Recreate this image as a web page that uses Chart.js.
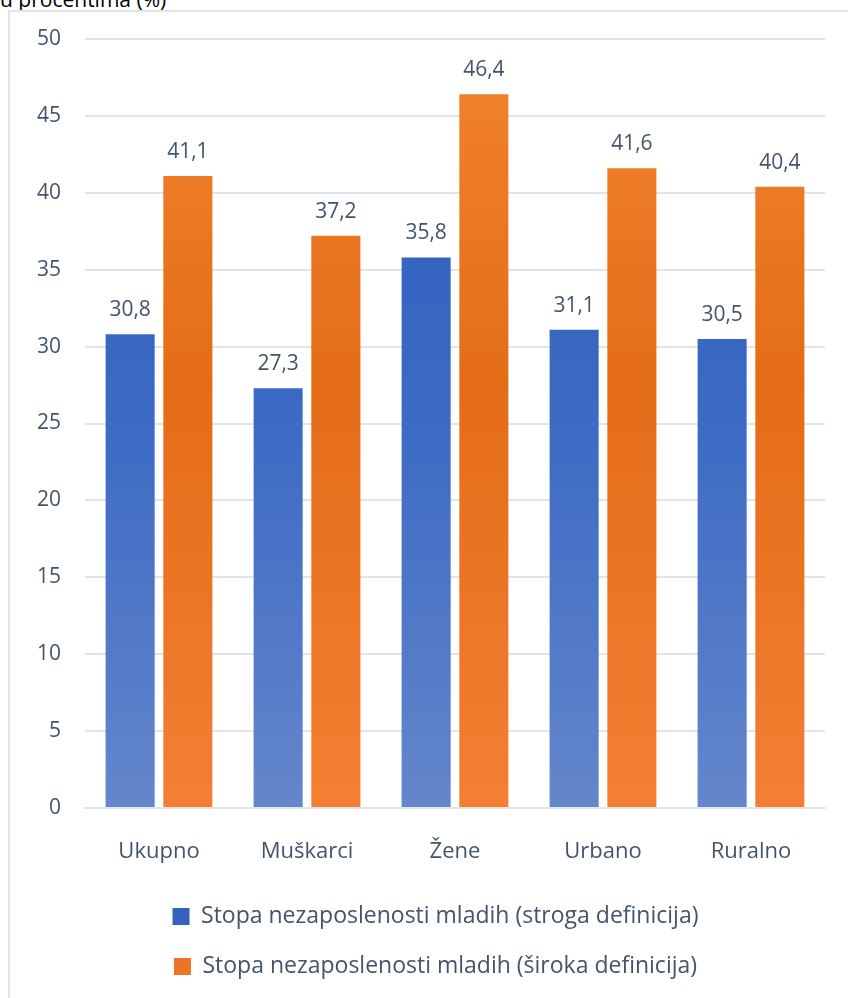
<!DOCTYPE html>
<html>
<head>
<meta charset="utf-8">
<script src="https://cdn.jsdelivr.net/npm/chart.js@4"></script>
<style>
  body { margin: 0; background: #fff; }
  #wrap { position: relative; width: 848px; height: 998px; overflow: hidden; }
  #title { position: absolute; left: 0; top: -15px; font: 21px "Open Sans", sans-serif; color: #000; white-space: nowrap; }
  #frame { position: absolute; left: 8px; top: 10px; width: 860px; height: 1000px; border-left: 2px solid #E1E4E9; border-top: 2px solid #E1E4E9; }
  #c { position: absolute; left: 0; top: 0; }
</style>
</head>
<body>
<div id="wrap">
  <div id="title">u procentima (%)</div>
  <div id="frame"></div>
  <canvas id="c" width="848" height="998"></canvas>
</div>
<script>
var categories = ['Ukupno', 'Muškarci', 'Žene', 'Urbano', 'Ruralno'];
var strictValues = [30.8, 27.3, 35.8, 31.1, 30.5];
var broadValues = [41.1, 37.2, 46.4, 41.6, 40.4];
var seriesNames = ['Stopa nezaposlenosti mladih (stroga definicija)', 'Stopa nezaposlenosti mladih (široka definicija)'];
var legendColors = ['#3462BF', '#EC7424'];

var textColor = '#44546A';
var fontFamily = '"Open Sans", sans-serif';

function blueFill(context) {
    const area = context.chart.chartArea;
    if (!area) return '#3A66C0';
    const g = context.chart.ctx.createLinearGradient(0, area.top, 0, area.bottom);
    g.addColorStop(0, '#2C5FBD');
    g.addColorStop(0.5, '#3C6AC4');
    g.addColorStop(1, '#6486CB');
    return g;
}

function orangeFill(context) {
    const area = context.chart.chartArea;
    if (!area) return '#EA7420';
    const g = context.chart.ctx.createLinearGradient(0, area.top, 0, area.bottom);
    g.addColorStop(0, '#F3842F');
    g.addColorStop(0.45, '#E46C17');
    g.addColorStop(1, '#F47F33');
    return g;
}

// draw values above bars, with decimal comma
const valueLabels = {
    id: 'valueLabels',
    afterDatasetsDraw(chart) {
        const ctx = chart.ctx;
        ctx.save();
        ctx.font = '21px ' + fontFamily;
        ctx.fillStyle = textColor;
        ctx.textAlign = 'center';
        ctx.textBaseline = 'middle';
        chart.data.datasets.forEach((ds, di) => {
            chart.getDatasetMeta(di).data.forEach((bar, i) => {
                ctx.fillText(ds.data[i].toFixed(1).replace('.', ','), bar.x, bar.y - 24);
            });
        });
        ctx.restore();
    }
};

// nudge the legend a bit to the right, like the original
const legendShift = {
    id: 'legendShift',
    afterLayout(chart) {
        if (chart.legend) {
            chart.legend.left += 18;
            chart.legend.right += 18;
        }
    }
};

new Chart(document.getElementById('c'), {
    type: 'bar',
    data: {
        labels: categories,
        datasets: [{
            label: seriesNames[0],
            data: strictValues,
            backgroundColor: blueFill,
            categoryPercentage: 0.78,
            barPercentage: 0.85
        }, {
            label: seriesNames[1],
            data: broadValues,
            backgroundColor: orangeFill,
            categoryPercentage: 0.78,
            barPercentage: 0.85
        }]
    },
    options: {
        responsive: false,
        animation: false,
        layout: {
            padding: { left: 10, right: 23, top: 39, bottom: 10 }
        },
        scales: {
            y: {
                min: 0,
                max: 50,
                ticks: {
                    stepSize: 5,
                    color: textColor,
                    font: { size: 21, family: fontFamily },
                    padding: 24
                },
                grid: { color: '#E1E4E9', lineWidth: 2, drawTicks: false },
                border: { display: false },
                afterFit: function(scale) { scale.width = 75; }
            },
            x: {
                ticks: {
                    color: textColor,
                    font: { size: 22, family: fontFamily },
                    padding: 31
                },
                grid: { display: false, drawTicks: false },
                border: { color: '#E1E4E9', width: 2 },
                afterFit: function(scale) { scale.height = 70; }
            }
        },
        plugins: {
            legend: {
                position: 'bottom',
                labels: {
                    color: textColor,
                    font: { size: 23, family: fontFamily },
                    boxWidth: 17,
                    boxHeight: 17,
                    padding: 27,
                    generateLabels: function(chart) {
                        return chart.data.datasets.map((ds, i) => ({
                            text: ds.label,
                            fillStyle: legendColors[i],
                            strokeStyle: legendColors[i],
                            lineWidth: 0,
                            fontColor: textColor,
                            hidden: false,
                            datasetIndex: i
                        }));
                    }
                }
            },
            tooltip: { enabled: false }
        }
    },
    plugins: [valueLabels, legendShift]
});
</script>
</body>
</html>
